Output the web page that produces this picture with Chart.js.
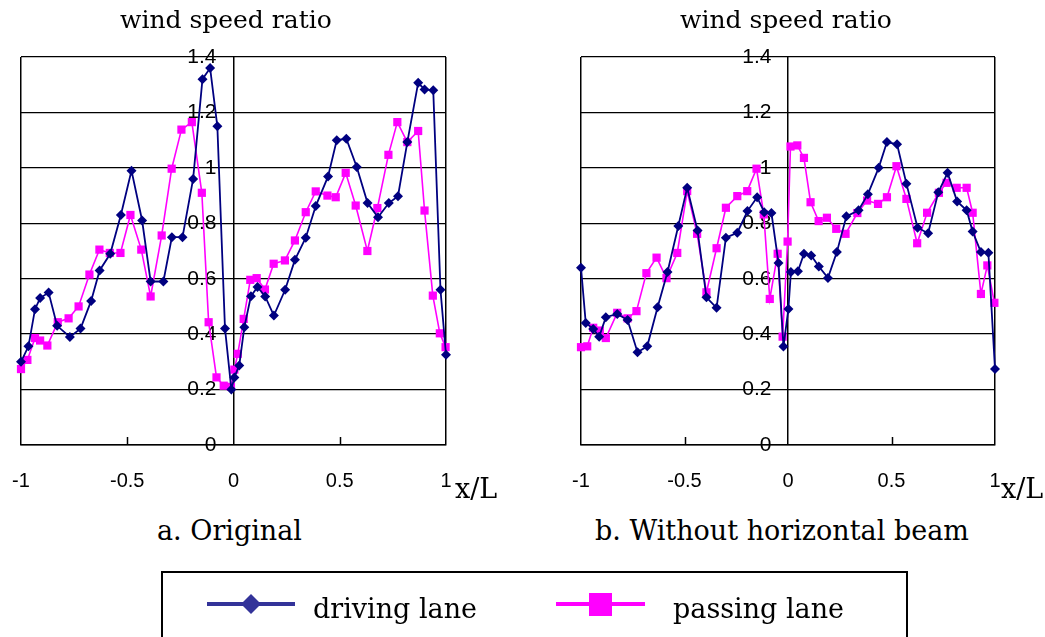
<!DOCTYPE html>
<html>
<head>
<meta charset="utf-8">
<script src="https://cdn.jsdelivr.net/npm/chart.js@4/dist/chart.umd.min.js"></script>
<style>
  body { margin: 0; background: #fff; }
  #wrap { position: relative; width: 1045px; height: 637px; overflow: hidden; background: #fff; }
  canvas { position: absolute; top: 0; }
  .txt { position: absolute; font-family: "DejaVu Serif", serif; color: #000; white-space: nowrap; line-height: 1; }
  .title { font-size: 25px; top: 7px; }
  .cap { font-size: 27px; top: 517px; }
  .xl { font-size: 27px; top: 475px; }
  #legend { position: absolute; left: 161px; top: 571px; width: 743px; height: 90px; border: 2px solid #000; }
</style>
</head>
<body>
<div id="wrap">
  <canvas id="chartA" width="560" height="500" style="left:-30px;width:560px;height:500px"></canvas>
  <canvas id="chartB" width="515" height="500" style="left:530px;width:515px;height:500px"></canvas>

  <div class="txt title" style="left:120px">wind speed ratio</div>
  <div class="txt title" style="left:680px">wind speed ratio</div>
  <div class="txt xl" style="left:455px">x/L</div>
  <div class="txt xl" style="left:1001px">x/L</div>
  <div class="txt cap" style="left:157px">a. Original</div>
  <div class="txt cap" style="left:595px">b. Without horizontal beam</div>

  <div id="legend"></div>
  <svg style="position:absolute;left:0;top:0" width="1045" height="637">
    <line x1="207" y1="604" x2="295" y2="604" stroke="#333399" stroke-width="4"/>
    <polygon points="251,594 261,604 251,614 241,604" fill="#333399"/>
    <line x1="556" y1="604" x2="645" y2="604" stroke="#ff00ff" stroke-width="4"/>
    <rect x="589" y="593" width="23" height="23" fill="#ff00ff"/>
  </svg>
  <div class="txt" style="left:313px;top:595px;font-size:27px">driving lane</div>
  <div class="txt" style="left:673px;top:595px;font-size:27px">passing lane</div>
</div>

<script>
// a. Original
const origDrivingX = [-1.0, -0.965, -0.934, -0.91, -0.87, -0.83, -0.77, -0.72, -0.67, -0.63, -0.58, -0.53, -0.48, -0.43, -0.39, -0.33, -0.29, -0.24, -0.19, -0.146, -0.11, -0.076, -0.04, -0.01, 0.004, 0.027, 0.051, 0.082, 0.113, 0.149, 0.19, 0.243, 0.289, 0.34, 0.387, 0.445, 0.486, 0.531, 0.58, 0.631, 0.68, 0.731, 0.774, 0.818, 0.869, 0.899, 0.94, 0.974, 1.0];
const origDrivingY = [0.30, 0.356, 0.49, 0.53, 0.55, 0.43, 0.39, 0.42, 0.52, 0.63, 0.69, 0.83, 0.99, 0.81, 0.59, 0.59, 0.75, 0.75, 0.96, 1.32, 1.36, 1.15, 0.42, 0.20, 0.244, 0.287, 0.425, 0.537, 0.57, 0.536, 0.467, 0.56, 0.668, 0.748, 0.862, 0.969, 1.10, 1.105, 1.003, 0.873, 0.822, 0.873, 0.898, 1.093, 1.307, 1.283, 1.28, 0.56, 0.326];
const origPassingX = [-1.0, -0.97, -0.934, -0.91, -0.876, -0.827, -0.776, -0.729, -0.678, -0.631, -0.582, -0.532, -0.485, -0.434, -0.39, -0.338, -0.291, -0.245, -0.196, -0.149, -0.117, -0.08, -0.046, -0.012, 0.004, 0.02, 0.048, 0.079, 0.109, 0.148, 0.189, 0.242, 0.289, 0.34, 0.387, 0.442, 0.481, 0.528, 0.575, 0.63, 0.677, 0.729, 0.771, 0.818, 0.869, 0.899, 0.938, 0.971, 0.998];
const origPassingY = [0.274, 0.307, 0.386, 0.377, 0.359, 0.443, 0.457, 0.50, 0.615, 0.705, 0.693, 0.693, 0.83, 0.705, 0.536, 0.756, 0.997, 1.138, 1.165, 0.91, 0.443, 0.244, 0.214, 0.21, 0.272, 0.329, 0.455, 0.596, 0.602, 0.561, 0.654, 0.666, 0.738, 0.84, 0.915, 0.90, 0.894, 0.982, 0.864, 0.70, 0.855, 1.047, 1.165, 1.093, 1.133, 0.846, 0.539, 0.403, 0.353];

// b. Without horizontal beam
const noBeamDrivingX = [-1.0, -0.977, -0.941, -0.912, -0.88, -0.825, -0.775, -0.727, -0.68, -0.63, -0.582, -0.53, -0.487, -0.437, -0.394, -0.345, -0.30, -0.245, -0.196, -0.149, -0.115, -0.08, -0.046, -0.022, 0.002, 0.014, 0.048, 0.077, 0.112, 0.149, 0.193, 0.236, 0.282, 0.341, 0.386, 0.438, 0.478, 0.527, 0.572, 0.626, 0.677, 0.726, 0.771, 0.817, 0.863, 0.892, 0.932, 0.968, 1.0];
const noBeamDrivingY = [0.64, 0.44, 0.419, 0.391, 0.461, 0.473, 0.451, 0.335, 0.356, 0.497, 0.624, 0.79, 0.928, 0.774, 0.533, 0.495, 0.748, 0.766, 0.844, 0.894, 0.84, 0.837, 0.657, 0.355, 0.491, 0.624, 0.627, 0.69, 0.684, 0.644, 0.603, 0.696, 0.825, 0.847, 0.905, 1.0, 1.093, 1.085, 0.943, 0.784, 0.764, 0.912, 0.982, 0.879, 0.847, 0.77, 0.696, 0.694, 0.274];
const noBeamPassingX = [-1.0, -0.97, -0.941, -0.909, -0.88, -0.825, -0.775, -0.732, -0.684, -0.635, -0.587, -0.535, -0.487, -0.439, -0.394, -0.345, -0.30, -0.245, -0.197, -0.152, -0.117, -0.088, -0.05, -0.026, -0.002, 0.012, 0.045, 0.077, 0.109, 0.148, 0.188, 0.233, 0.278, 0.335, 0.382, 0.435, 0.478, 0.524, 0.572, 0.624, 0.672, 0.729, 0.766, 0.815, 0.863, 0.892, 0.932, 0.963, 0.997];
const noBeamPassingY = [0.353, 0.356, 0.423, 0.413, 0.386, 0.477, 0.457, 0.483, 0.62, 0.676, 0.602, 0.693, 0.916, 0.762, 0.551, 0.71, 0.856, 0.898, 0.916, 0.997, 0.832, 0.527, 0.69, 0.391, 0.734, 1.077, 1.081, 1.036, 0.876, 0.808, 0.82, 0.78, 0.762, 0.837, 0.882, 0.87, 0.894, 1.006, 0.888, 0.728, 0.838, 0.91, 0.946, 0.928, 0.928, 0.838, 0.545, 0.648, 0.513];

const xTicks = [-1, -0.5, 0, 0.5, 1];
const yTicks = [0, 0.2, 0.4, 0.6, 0.8, 1, 1.2, 1.4];

function toPoints(xs, ys) {
  return xs.map((x, i) => ({ x: x, y: ys[i] }));
}

// small tick marks pointing up from the x axis
const innerTicks = {
  id: 'innerTicks',
  afterDraw(chart) {
    const ctx = chart.ctx;
    const xs = chart.scales.x;
    const bottom = chart.chartArea.bottom;
    ctx.save();
    ctx.strokeStyle = '#000';
    ctx.lineWidth = 1.5;
    [-0.5, 0.5].forEach(v => {
      const px = Math.round(xs.getPixelForValue(v)) + 0.5;
      ctx.beginPath();
      ctx.moveTo(px, bottom);
      ctx.lineTo(px, bottom - 8);
      ctx.stroke();
    });
    ctx.restore();
  }
};

function makePanel(id, dX, dY, pX, pY, pad) {
  const ctx = document.getElementById(id).getContext('2d');
  return new Chart(ctx, {
    type: 'scatter',
    data: {
      datasets: [{
        label: 'driving lane',
        data: toPoints(dX, dY),
        showLine: true,
        borderColor: '#000080',
        backgroundColor: '#000080',
        borderWidth: 1.8,
        pointStyle: 'rectRot',
        pointRadius: 5,
        pointBorderWidth: 0,
        clip: false
      }, {
        label: 'passing lane',
        data: toPoints(pX, pY),
        showLine: true,
        borderColor: '#ff00ff',
        backgroundColor: '#ff00ff',
        borderWidth: 1.6,
        pointStyle: 'rect',
        pointRadius: 5.8,
        pointBorderWidth: 0,
        clip: false
      }]
    },
    options: {
      responsive: false,
      animation: false,
      layout: { padding: pad },
      plugins: { legend: { display: false }, tooltip: { enabled: false } },
      scales: {
        x: {
          type: 'linear',
          min: -1, max: 1,
          afterBuildTicks: s => { s.ticks = xTicks.map(v => ({ value: v })); },
          afterFit: s => { s.height = 50; },
          ticks: {
            color: '#000', padding: 24, maxRotation: 0, autoSkip: false,
            font: { family: 'Liberation Sans', size: 20 },
            callback: v => String(v)
          },
          grid: {
            drawTicks: false,
            color: c => (c.tick && (Math.abs(c.tick.value) === 1 || c.tick.value === 0)) ? '#000' : 'rgba(0,0,0,0)',
            lineWidth: 1.5
          },
          border: { color: '#000', width: 1.5 }
        },
        y: {
          type: 'linear',
          // labels sit a little left of the x=0 axis line
          position: { x: -0.08 },
          min: 0, max: 1.4,
          afterBuildTicks: s => { s.ticks = yTicks.map(v => ({ value: v })); },
          ticks: {
            color: '#000', padding: 0,
            font: { family: 'Liberation Sans', size: 21 },
            callback: v => String(+v.toFixed(1))
          },
          grid: { color: '#000', lineWidth: 1.3, drawTicks: false },
          border: { display: false }
        }
      }
    },
    plugins: [innerTicks]
  });
}

makePanel('chartA', origDrivingX, origDrivingY, origPassingX, origPassingY,
  { left: 51, top: 57, right: 84, bottom: 5 });
makePanel('chartB', noBeamDrivingX, noBeamDrivingY, noBeamPassingX, noBeamPassingY,
  { left: 51, top: 57, right: 50, bottom: 5 });
</script>
</body>
</html>
